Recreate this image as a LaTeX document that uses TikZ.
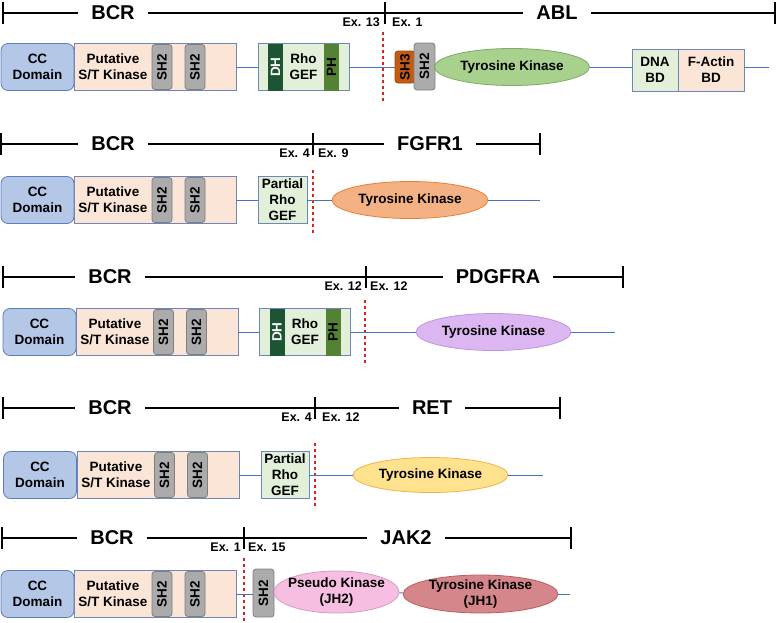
\documentclass[tikz,border=0pt]{standalone}
\usepackage{fontspec}
\setmainfont{Liberation Sans}
\usetikzlibrary{shapes.geometric,positioning}

\definecolor{ccfill}{HTML}{B4C7E7}
\definecolor{ccline}{HTML}{5A7DBE}
\definecolor{boxline}{HTML}{6F87B8}
\definecolor{peach}{HTML}{FBE5D6}
\definecolor{gefgreen}{HTML}{E2F0D9}
\definecolor{dhgreen}{HTML}{1D5433}
\definecolor{phgreen}{HTML}{548235}
\definecolor{shgray}{HTML}{ABABAB}
\definecolor{shline}{HTML}{7F7F7F}
\definecolor{shthree}{HTML}{C55A11}
\definecolor{backbone}{HTML}{4472C4}
\definecolor{cutred}{HTML}{E0201C}
\definecolor{tkgreen}{HTML}{A9D18E}
\definecolor{tkgreenl}{HTML}{7FA865}
\definecolor{tkorange}{HTML}{F4B183}
\definecolor{tkorangel}{HTML}{ED7D31}
\definecolor{tkpurple}{HTML}{DCB6F1}
\definecolor{tkpurplel}{HTML}{BF95DB}
\definecolor{tkyellow}{HTML}{FFE28E}
\definecolor{tkyellowl}{HTML}{F0B34A}
\definecolor{pkpink}{HTML}{F6BEE0}
\definecolor{pkpinkl}{HTML}{D69AC9}
\definecolor{jhrose}{HTML}{D4868A}
\definecolor{jhrosel}{HTML}{C25A5E}

\newcommand{\domfont}{\fontsize{13.5}{16}\selectfont\bfseries}
\newcommand{\genefont}{\fontsize{20}{22}\selectfont\bfseries}
\newcommand{\exfont}{\fontsize{12.5}{14}\selectfont\bfseries}

\begin{document}
\begin{tikzpicture}[x=1pt,y=-1pt,
    dom/.style={draw=boxline, line width=0.8pt, inner sep=0pt, minimum height=47pt, align=center, font=\domfont},
    cc/.style={dom, fill=ccfill, draw=ccline, rounded corners=7pt, minimum width=73pt},
    stk/.style={dom, fill=peach, minimum width=162pt},
    shtwo/.style={dom, fill=shgray, draw=shline, rounded corners=3pt, minimum width=20pt, minimum height=45pt},
    gef/.style={dom, fill=gefgreen, minimum width=91pt},
    pgef/.style={dom, fill=gefgreen, minimum width=49pt},
    dh/.style={dom, fill=dhgreen, draw=none, text=white, minimum width=15pt},
    ph/.style={dom, fill=phgreen, draw=none, minimum width=15pt},
    tk/.style={ellipse, draw, line width=0.8pt, inner sep=0pt, minimum width=155pt, minimum height=37pt, font=\domfont},
    lbl/.style={align=center, inner sep=0pt, font=\domfont},
    bb/.style={draw=backbone, line width=0.9pt},
    cut/.style={draw=cutred, dash pattern=on 3pt off 3pt, line width=1.1pt},
    scl/.style={line width=1.1pt},
    gene/.style={font=\genefont, inner sep=0pt, inner xsep=13pt},
    exl/.style={font=\exfont, inner sep=0pt}]

  \useasboundingbox (0,0) rectangle (778,622);

  % BCR-ABL
  \coordinate (s1l) at (3,13);
  \coordinate (s1j) at (385,13);
  \coordinate (s1r) at (775,13);
  \node[gene] (bcr1) at (113,13) {BCR};
  \node[gene] (abl1) at (557,13) {ABL};
  \node[exl, below left=4.5pt and 5pt of s1j] (ex13) {Ex. 13};
  \node[exl, below right=4.5pt and 7pt of s1j] (ex1) {Ex. 1};

  \node[cc]  (cc1)  at (37.5,67) {CC\\Domain};
  \node[stk] (stk1) at (155,67)  {};
  \node[lbl] (stk1t) at (113,67) {Putative\\S/T Kinase};
  \node[shtwo] (sha1) at (162,67) {\rotatebox{90}{SH2}};
  \node[shtwo] (shb1) at (195,67) {\rotatebox{90}{SH2}};
  \node[gef] (gef1) at (303.5,67) {Rho\\GEF};
  \node[dh]  (dh1)  at (275.5,67) {\rotatebox{90}{DH}};
  \node[ph]  (ph1)  at (331.5,67) {\rotatebox{90}{PH}};
  \node[shtwo, fill=shthree, draw=shthree!80!black, minimum height=32pt] (shc1) at (405,67) {\rotatebox{90}{SH3}};
  \node[shtwo, minimum height=47pt, minimum width=21pt] (shd1) at (424.5,66.5) {\rotatebox{90}{SH2}};
  \node[tk, fill=tkgreen, draw=tkgreenl] (tk1) at (512,67) {Tyrosine Kinase};
  \node[dom, fill=gefgreen, minimum width=46pt, minimum height=42pt] (dna1) at (655,70) {DNA\\BD};
  \node[dom, fill=peach, minimum width=66pt, minimum height=42pt] (fab1) at (711,70) {F-Actin\\BD};
  \coordinate (e1) at (769,67);
  \coordinate (cut1a) at (383,32);
  \coordinate (cut1b) at (383,101);

  % BCR-FGFR1
  \coordinate (s2l) at (1,144);
  \coordinate (s2j) at (313,144);
  \coordinate (s2r) at (540,144);
  \node[gene] (bcr2) at (113,144) {BCR};
  \node[gene] (fgf2) at (430,144) {FGFR1};
  \node[exl, below left=4.5pt and 3pt of s2j] (ex4a) {Ex. 4};
  \node[exl, below right=4.5pt and 5pt of s2j] (ex9) {Ex. 9};

  \node[cc]  (cc2)  at (37.5,200) {CC\\Domain};
  \node[stk] (stk2) at (155,200)  {};
  \node[lbl] (stk2t) at (113,200) {Putative\\S/T Kinase};
  \node[shtwo] (sha2) at (162,200) {\rotatebox{90}{SH2}};
  \node[shtwo] (shb2) at (195,200) {\rotatebox{90}{SH2}};
  \node[pgef] (gef2) at (282.5,200) {Partial\\Rho\\GEF};
  \node[tk, fill=tkorange, draw=tkorangel, minimum width=156pt] (tk2) at (410,200) {Tyrosine Kinase};
  \coordinate (e2) at (540,200);
  \coordinate (cut2a) at (313,170);
  \coordinate (cut2b) at (313,233);

  % BCR-PDGFRA
  \coordinate (s3l) at (3,277);
  \coordinate (s3j) at (366,277);
  \coordinate (s3r) at (623,277);
  \node[gene] (bcr3) at (110,277) {BCR};
  \node[gene] (pdg3) at (498,277) {PDGFRA};
  \node[exl, below left=4.5pt and 4pt of s3j] (ex12a) {Ex. 12};
  \node[exl, below right=4.5pt and 4pt of s3j] (ex12b) {Ex. 12};

  \node[cc]  (cc3)  at (39.5,332) {CC\\Domain};
  \node[stk] (stk3) at (157,332)  {};
  \node[lbl] (stk3t) at (115,332) {Putative\\S/T Kinase};
  \node[shtwo] (sha3) at (163.5,332) {\rotatebox{90}{SH2}};
  \node[shtwo] (shb3) at (196.5,332) {\rotatebox{90}{SH2}};
  \node[gef] (gef3) at (305,332) {Rho\\GEF};
  \node[dh]  (dh3)  at (277,332) {\rotatebox{90}{DH}};
  \node[ph]  (ph3)  at (333,332) {\rotatebox{90}{PH}};
  \node[tk, fill=tkpurple, draw=tkpurplel] (tk3) at (493.5,332) {Tyrosine Kinase};
  \coordinate (e3) at (615,332);
  \coordinate (cut3a) at (365,300);
  \coordinate (cut3b) at (365,366);

  % BCR-RET
  \coordinate (s4l) at (3,408);
  \coordinate (s4j) at (315,408);
  \coordinate (s4r) at (560,408);
  \node[gene] (bcr4) at (110,408) {BCR};
  \node[gene] (ret4) at (432,408) {RET};
  \node[exl, below left=4.5pt and 3pt of s4j] (ex4b) {Ex. 4};
  \node[exl, below right=4.5pt and 7pt of s4j] (ex12c) {Ex. 12};

  \node[cc]  (cc4)  at (40,475) {CC\\Domain};
  \node[stk] (stk4) at (158,475)  {};
  \node[lbl] (stk4t) at (116,475) {Putative\\S/T Kinase};
  \node[shtwo] (sha4) at (164.5,475) {\rotatebox{90}{SH2}};
  \node[shtwo] (shb4) at (197.5,475) {\rotatebox{90}{SH2}};
  \node[pgef, minimum width=48pt] (gef4) at (285,475) {Partial\\Rho\\GEF};
  \node[tk, fill=tkyellow, draw=tkyellowl, minimum height=35pt] (tk4) at (430.5,475) {Tyrosine Kinase};
  \coordinate (e4) at (543,475);
  \coordinate (cut4a) at (315,443);
  \coordinate (cut4b) at (315,508);

  % BCR-JAK2
  \coordinate (s5l) at (2,538);
  \coordinate (s5j) at (244,538);
  \coordinate (s5r) at (571,538);
  \node[gene] (bcr5) at (112,538) {BCR};
  \node[gene] (jak5) at (406,538) {JAK2};
  \node[exl, below left=4.5pt and 3pt of s5j] (ex1b) {Ex. 1};
  \node[exl, below right=4.5pt and 4pt of s5j] (ex15) {Ex. 15};

  \node[cc]  (cc5)  at (37.5,594) {CC\\Domain};
  \node[stk] (stk5) at (155,594)  {};
  \node[lbl] (stk5t) at (113,594) {Putative\\S/T Kinase};
  \node[shtwo] (sha5) at (162,594) {\rotatebox{90}{SH2}};
  \node[shtwo] (shb5) at (195,594) {\rotatebox{90}{SH2}};
  \node[shtwo, minimum height=48pt, minimum width=21pt] (shc5) at (263.5,593) {\rotatebox{90}{SH2}};
  \node[tk, fill=pkpink, draw=pkpinkl, minimum width=125pt, minimum height=42pt] (pk5) at (336.5,592) {};
  \node[lbl] (pk5t) at (pk5) {Pseudo Kinase\\(JH2)};
  \node[tk, fill=jhrose, draw=jhrosel, minimum height=38pt] (jh5) at (480.5,594) {};
  \node[lbl] (jh5t) at (jh5) {Tyrosine Kinase\\(JH1)};
  \coordinate (e5) at (570,594);
  \coordinate (cut5a) at (244,558);
  \coordinate (cut5b) at (244,622);

  % scale bars and breakpoints
  \foreach \r/\a/\b in {1/bcr1/abl1, 2/bcr2/fgf2, 3/bcr3/pdg3, 4/bcr4/ret4, 5/bcr5/jak5} {
    \draw[scl] (s\r l) -- (\a);
    \draw[scl] (\a) -- (s\r j) -- (\b);
    \draw[scl] (\b) -- (s\r r);
    \draw[scl] ([yshift=11pt]s\r l) -- ([yshift=-11pt]s\r l);
    \draw[scl] ([yshift=11pt]s\r j) -- ([yshift=-11pt]s\r j);
    \draw[scl] ([yshift=11pt]s\r r) -- ([yshift=-11pt]s\r r);
    \draw[cut] (cut\r a) -- (cut\r b);
  }

  % backbones
  \path[bb] (stk1) -- (gef1);
  \path[bb] (gef1) -- (shc1);
  \path[bb] (tk1) -- (tk1.east -| dna1.west);
  \path[bb] (fab1.east |- e1) -- (e1);
  \path[bb] (stk2) -- (gef2);
  \path[bb] (gef2) -- (tk2);
  \path[bb] (tk2) -- (e2);
  \path[bb] (stk3) -- (gef3);
  \path[bb] (gef3) -- (tk3);
  \path[bb] (tk3) -- (e3);
  \path[bb] (stk4) -- (gef4);
  \path[bb] (gef4) -- (tk4);
  \path[bb] (tk4) -- (e4);
  \path[bb] (stk5.east) -- (stk5.east -| shc5.west);
  \path[bb] (pk5) -- (jh5);
  \path[bb] (jh5) -- (e5);

\end{tikzpicture}
\end{document}
